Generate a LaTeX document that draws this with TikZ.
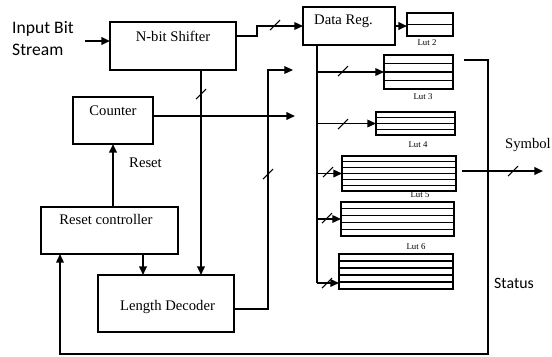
\documentclass[tikz,border=0pt]{standalone}
\usepackage{fontspec}
\setmainfont{Liberation Serif}
\newfontfamily\sansf{Carlito}
\usetikzlibrary{arrows.meta,calc}

\begin{document}
\begin{tikzpicture}[x=0.03cm, y=-0.03cm,
        font=\fontsize{12.5}{15}\selectfont,
        >={Triangle[length=2.6mm,width=2.3mm]},
        thk/.style={line width=1.8pt},
        med/.style={line width=1.2pt},
        thn/.style={line width=0.9pt},
        blk/.style={draw, line width=1.1pt, inner sep=0pt, outer sep=0pt},
        lut/.style={draw, thn, inner sep=0pt, outer sep=0pt},
        txt/.style={inner sep=0pt},
        lbl/.style={inner sep=0pt, font=\fontsize{7.5}{8}\selectfont},
        sz/.style 2 args={minimum width=#1*0.03cm, minimum height=#2*0.03cm},
        ttl/.style n args={3}{label={[anchor=north, inner sep=0pt, label distance=-#1pt, xshift=#2pt]north:#3}}]
            \useasboundingbox (0,0) rectangle (552,356);

            \node[txt, anchor=west, align=left, font=\sansf\fontsize{15}{18.8}\selectfont] (instream) at (12,39) {Input Bit\\Stream};
            \node[blk, sz={126}{48}, ttl={7.7}{0}{N-bit Shifter}] (shifter) at (173,46) {};
            \node[blk, sz={92}{38}, ttl={6.8}{-4.7}{Data Reg.}] (dreg) at (349,26) {};
            \node[blk, sz={80}{47}, ttl={7.7}{0}{Counter}] (counter) at (113,120.5) {};
            \node[blk, sz={137}{47}, ttl={6}{-3}{Reset controller}] (resetc) at (109.5,230.5) {};
            \node[blk, sz={136}{57}, ttl={21.3}{1.3}{Length Decoder}] (lendec) at (166,303.5) {};
            \node[txt] (reset) at (145.5,163) {Reset};
            \node[txt, anchor=base west] (symbol) at (505,148) {Symbol};
            \node[txt, anchor=base west, font=\sansf\fontsize{13.5}{16}\selectfont] (status) at (494,288) {Status};

            % look-up tables
            \foreach \n/\x/\y/\w/\h in {tab1/430/24.5/46/23, tab2/418.5/72/69/34, tab3/415.5/123.5/79/23, tab4/399/173.5/114/35, tab5/397.5/219/113/34, tab6/396/271.5/114/35} {
                \node[lut, sz={\w}{\h}] (\n) at (\x,\y) {};
            }
            \foreach \n/\k in {tab1/1, tab2/3, tab3/3, tab4/5, tab5/4, tab6/4} {
                \foreach \i in {1,...,\k} {
                    \draw[thn] ($(\n.north west)!{\i/(\k+1)}!(\n.south west)$) -- ($(\n.north east)!{\i/(\k+1)}!(\n.south east)$);
                }
            }
            \foreach \x/\y/\t in {427/43/2, 423/97/3, 418/145/4, 420/195/5, 416/247/6} {
                \node[lbl] (lab\t) at (\x,\y) {Lut \t};
            }

            \coordinate (inStart) at (85,41);
            \draw[thk,->] (inStart) -- (inStart -| shifter.west);
            \coordinate (sOut) at (236,36);
            \draw[med,->] (sOut) -- ++(21,0) |- (dreg.west);
            \draw[thk,->] (dreg.east) -- (dreg.east -| tab1.west);

            % data register bus
            \coordinate (busTop) at (317,45);
            \coordinate (busEnd) at ($(tab6.west)+(0,11.5)$);
            \draw[thn] (busTop) -- (busTop |- busEnd);
            \foreach \n in {tab2, tab3, tab4, tab5} {
                \draw[med,->] (busTop |- \n.west) -- (\n.west);
            }
            \draw[med,->] (busTop |- busEnd) -- (busEnd);

            \coordinate (sDown) at (201,70);
            \draw[thk,->] (sDown) -- (sDown |- lendec.north);
            \coordinate (cntOut) at (295,116);
            \draw[thk,->] (cntOut -| counter.east) -- (cntOut);
            \coordinate (ldOut) at (293,70);
            \coordinate (ldTurn) at (268,309);
            \draw[thn,->] (ldTurn -| lendec.east) -- (ldTurn) |- (ldOut);
            \draw[thk,->] (resetc.north -| counter.south) -- (counter.south);
            \coordinate (rcOut) at (143,254);
            \draw[thk,->] (rcOut) -- (rcOut |- lendec.north);

            \coordinate (symIn) at (462,171);
            \coordinate (symOut) at (543,171);
            \draw[thk,->] (symIn) -- (symOut);
            \coordinate (stIn) at (464,60);
            \coordinate (stLow) at (488,354);
            \coordinate (rcIn) at (60,254);
            \draw[med,->] (stIn) -| (stLow) -| (rcIn);

            % bus width marks
            \foreach \x/\y in {275/25, 201/94, 268/174, 343/71, 343/124, 328/172, 327/218, 327/283, 513/171} {
                \draw[thn] (\x-5,\y+5) -- (\x+5,\y-5);
            }

        \end{tikzpicture}
\end{document}
